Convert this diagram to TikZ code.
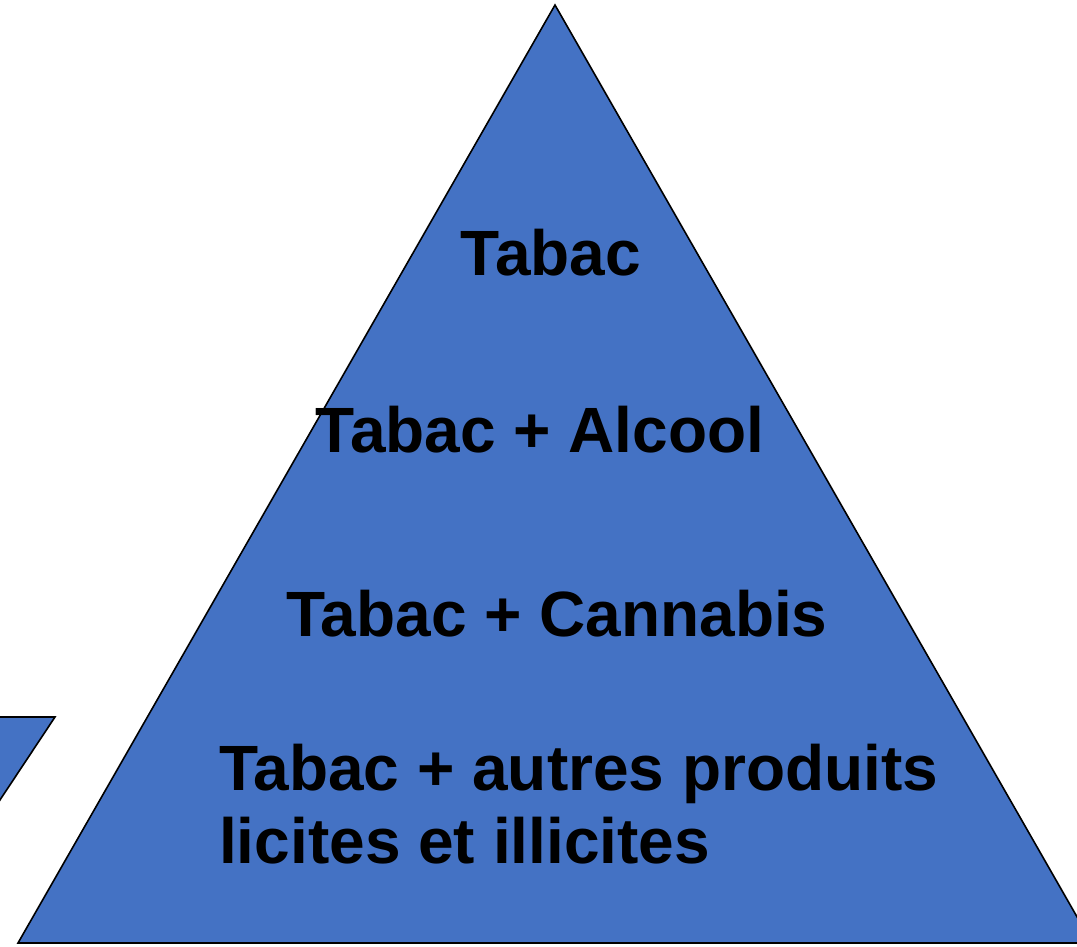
\documentclass[tikz,border=0pt]{standalone}
\usepackage{fontspec}
\setmainfont{Liberation Sans}
\definecolor{pyrblue}{HTML}{4472C4}
\begin{document}
\begin{tikzpicture}[x=1pt,y=-1pt,
  shapefill/.style={fill=pyrblue,draw=black,line width=1.6pt,line join=miter},
  lbl/.style={font=\fontsize{64}{76}\selectfont\bfseries,text=black,inner sep=0pt,anchor=base}]
\useasboundingbox (0,0) rectangle (1077,946);
\clip (0,0) rectangle (1077,946);
\fill[white] (0,0) rectangle (1077,946);
\draw[shapefill] (-10,717) -- (55,717) -- (-10,815) -- cycle;
\draw[shapefill] (555,5) -- (1092,943) -- (18,943) -- cycle;
\node[lbl] (t1) at (551,275) {Tabac};
\node[lbl] (t2) at (540,452) {Tabac + Alcool};
\node[lbl] (t3) at (557,636) {Tabac + Cannabis};
\node[lbl,anchor=base west] (t4) at (219,790) {Tabac + autres produits};
\node[lbl,anchor=base west] (t5) at (219,863) {licites et illicites};
\end{tikzpicture}
\end{document}
